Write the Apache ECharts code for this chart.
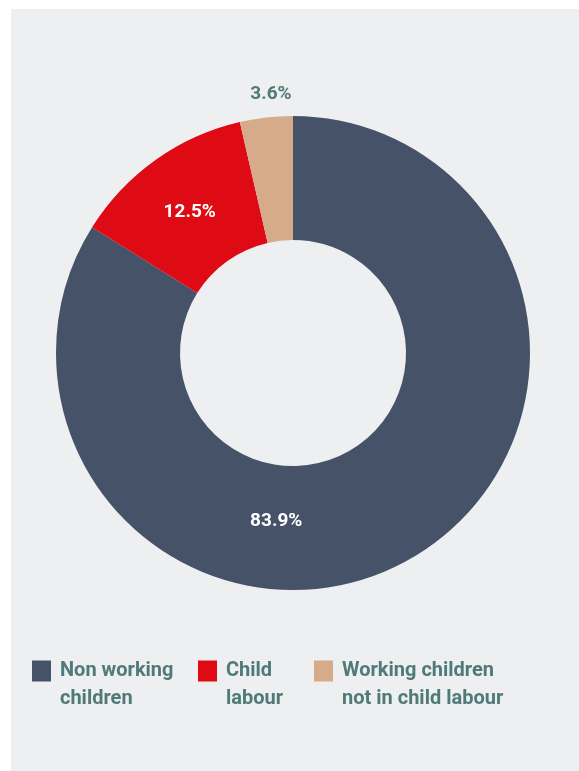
<!DOCTYPE html>
<html>
<head>
<meta charset="utf-8">
<script src="https://cdn.jsdelivr.net/npm/echarts@6/dist/echarts.min.js"></script>
<style>
    html, body { margin: 0; padding: 0; background: #fff; }
    #donut-chart { width: 579px; height: 771px; }
</style>
</head>
<body>
<div id="donut-chart"></div>
<script>
    // categories and shares (%)
    let categories = ['Non working children', 'Child labour', 'Working children not in child labour']
    let legendLabels = ['Non working\nchildren', 'Child\nlabour', 'Working children\nnot in child labour']
    let shares = [83.9, 12.5, 3.6]
    let colors = ['#465268', '#de0b15', '#d6ab89']

    let teal = '#507a78'
    // label placement per slice: text colour and nudge from the slice middle
    let labelStyles = [
        {color: '#fff', offset: [-103, 13]},
        {color: '#fff', offset: [0, 4]},
        {color: teal, offset: [-2, -82]}
    ]
    // left edge of each legend swatch
    let legendLeft = [32, 198, 314]

    let chart = echarts.init(document.getElementById('donut-chart'))
    let options = {
        backgroundColor: '#fff',
        textStyle: {
            fontFamily: 'Roboto'
        },
        graphic: [{
            type: 'rect',
            z: -10,
            silent: true,
            shape: {x: 11, y: 9, width: 568, height: 762},
            style: {fill: '#eeeff1'}
        }],
        legend: categories.map((c, i) => ({
            data: [c],
            left: legendLeft[i] - 5,
            top: 624,
            itemWidth: 19,
            itemHeight: 21,
            icon: 'rect',
            selectedMode: false,
            // empty first line keeps the swatch level with the first text line
            formatter: (name) => ' \n' + legendLabels[categories.indexOf(name)],
            textStyle: {
                color: teal,
                fontSize: 20,
                fontWeight: 'bold',
                lineHeight: 28,
                padding: [0, 0, 0, 4]
            }
        })),
        series: [{
            type: 'pie',
            center: [293, 353],
            radius: [113, 237],
            startAngle: 90,
            clockwise: true,
            silent: true,
            avoidLabelOverlap: false,
            labelLine: {show: false},
            data: categories.map((c, i) => ({
                name: c,
                value: shares[i],
                itemStyle: {color: colors[i]},
                label: {
                    show: true,
                    position: 'inside',
                    formatter: shares[i].toFixed(1) + '%',
                    color: labelStyles[i].color,
                    offset: labelStyles[i].offset,
                    fontSize: 19,
                    fontWeight: 'bold',
                    fontFamily: 'Roboto'
                }
            }))
        }]
    }
    chart.setOption(options)
</script>
</body>
</html>
